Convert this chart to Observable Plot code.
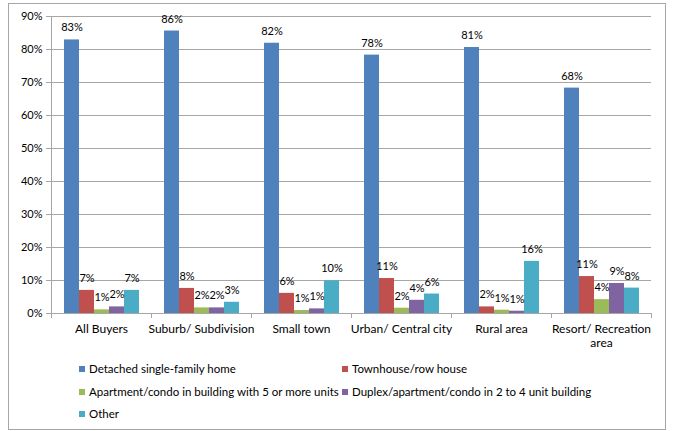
<!DOCTYPE html>
<html>
<head>
<meta charset="utf-8">
<script src="https://cdn.jsdelivr.net/npm/d3@7"></script>
<script src="https://cdn.jsdelivr.net/npm/@observablehq/plot@0.6"></script>
<style>
  body { margin: 0; background: #fff; font-family: Lato, "Open Sans", sans-serif; }
  #wrap { position: relative; width: 673px; height: 431px; overflow: hidden; }
  #border { position: absolute; left: 8px; top: 3px; width: 658px; height: 427px; box-sizing: border-box; border: 1px solid #a6a6a6; }
  #chart { position: absolute; left: 0; top: 0; }
  .item { position: absolute; display: flex; align-items: center; font-size: 11.5px; line-height: 14px; color: #000; white-space: nowrap; }
  .sw { width: 6px; height: 6px; margin-right: 4px; }
</style>
</head>
<body>
<div id="wrap">
  <div id="border"></div>
  <div id="chart"></div>
  <div id="legend"></div>
</div>
<script>
const categories = ["All Buyers", "Suburb/ Subdivision", "Small town", "Urban/ Central city", "Rural area", "Resort/ Recreation area"];
const categoryLabels = ["All Buyers", "Suburb/ Subdivision", "Small town", "Urban/ Central city", "Rural area", "Resort/ Recreation\narea"];
const seriesNames = [
  "Detached single-family home",
  "Townhouse/row house",
  "Apartment/condo in building with 5 or more units",
  "Duplex/apartment/condo in 2 to 4 unit building",
  "Other"
];
const seriesColors = ["#4F81BD", "#C0504D", "#9BBB59", "#8064A2", "#4BACC6"];
const detached  = [82.9, 85.6, 81.9, 78.3, 80.6, 68.3];
const townhouse = [7.0, 7.6, 6.1, 10.6, 2.0, 11.2];
const apartment = [1.1, 1.7, 0.9, 1.6, 1.0, 4.2];
const duplex    = [2.0, 1.7, 1.4, 4.0, 0.7, 9.1];
const other     = [7.0, 3.4, 9.9, 5.9, 15.8, 7.7];
const yTicks = [0, 10, 20, 30, 40, 50, 60, 70, 80, 90];

const seriesValues = [detached, townhouse, apartment, duplex, other];
const rows = [];
categories.forEach((c, i) => {
  seriesValues.forEach((arr, j) => rows.push({category: c, series: seriesNames[j], value: arr[i]}));
});
const labelOf = new Map(categories.map((c, i) => [c, categoryLabels[i]]));
const gray = "#a6a6a6";

// decorative axis lines: y-axis line and category boundary ticks (drawn once over the whole frame)
function axisDecor(index, scales, values, dimensions) {
  const {width, height, marginLeft, marginRight, marginTop, marginBottom} = dimensions;
  const g = d3.create("svg:g").attr("stroke", gray).attr("fill", "none");
  const y0 = height - marginBottom;
  g.append("line").attr("x1", marginLeft + 0.5).attr("x2", marginLeft + 0.5)
    .attr("y1", marginTop).attr("y2", y0);
  const fx = scales.fx;
  let bounds;
  if (fx && fx.bandwidth) {
    bounds = categories.map(c => fx(c));
    bounds.push(fx(categories[categories.length - 1]) + fx.bandwidth());
  } else {
    const s = d3.scaleBand().domain(categories).range([marginLeft, width - marginRight]);
    bounds = categories.map(c => s(c)); bounds.push(width - marginRight);
  }
  bounds.forEach(x => {
    g.append("line").attr("x1", Math.round(x) + 0.5).attr("x2", Math.round(x) + 0.5)
      .attr("y1", y0).attr("y2", y0 + 5);
  });
  return g.node();
}

const plot = Plot.plot({
  width: 673,
  height: 350,
  marginLeft: 50,
  marginRight: 21,
  marginTop: 16,
  marginBottom: 37,
  style: {fontFamily: "Lato, 'Open Sans', sans-serif", fontSize: "11px", color: "#000", background: "transparent"},
  fx: {domain: categories, padding: 0, label: null},
  x: {domain: seriesNames, paddingInner: 0, paddingOuter: 0.833, axis: null},
  y: {domain: [0, 90], label: null},
  color: {domain: seriesNames, range: seriesColors},
  marks: [
    Plot.gridY(yTicks, {stroke: gray, strokeOpacity: 1}),
    Plot.barY(rows, {fx: "category", x: "series", y: "value", fill: "series"}),
    Plot.ruleY([0], {stroke: gray}),
    Plot.text(rows, {fx: "category", x: "series", y: "value", text: d => Math.round(d.value) + "%", dy: -12, fill: "#000", fontSize: 11}),
    Plot.axisY(yTicks, {anchor: "left", tickFormat: d => d + "%", tickSize: 5, tickPadding: 4, stroke: gray, fill: "#000", label: null, fontSize: 11}),
    Plot.axisFx({anchor: "bottom", tickSize: 0, tickPadding: 9, tickFormat: c => labelOf.get(c), label: null, fill: "#000", fontSize: 12, lineHeight: 1.2}),
    Plot.frame({facet: "super", stroke: "none", render: (index, scales, values, dimensions) => axisDecor(index, scales, values, dimensions)})
  ]
});
document.getElementById("chart").appendChild(plot);

// legend
const legendPos = [
  {left: 79, top: 369}, {left: 342, top: 369},
  {left: 79, top: 392}, {left: 342, top: 392},
  {left: 79, top: 414}
];
const legend = document.getElementById("legend");
seriesNames.forEach((name, i) => {
  const it = document.createElement("div");
  it.className = "item";
  it.style.left = legendPos[i].left + "px";
  it.style.top = (legendPos[i].top - 7) + "px";
  const sw = document.createElement("span");
  sw.className = "sw";
  sw.style.background = seriesColors[i];
  const tx = document.createElement("span");
  tx.textContent = name;
  it.appendChild(sw); it.appendChild(tx);
  legend.appendChild(it);
});
</script>
</body>
</html>
